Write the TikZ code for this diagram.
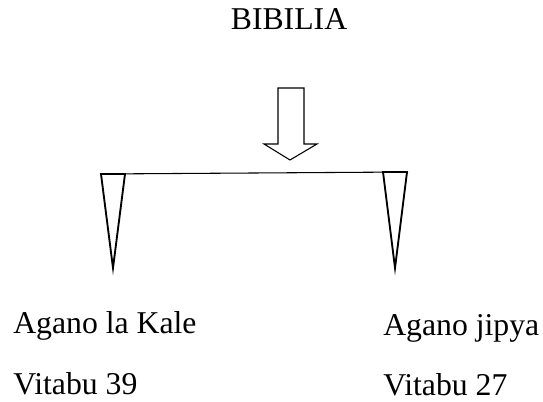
\documentclass[tikz,border=0pt]{standalone}
\usepackage{fontspec}
\setmainfont{Liberation Serif}
\usetikzlibrary{positioning}

\begin{document}
\begin{tikzpicture}[x=0.75pt,y=-0.75pt,
    label/.style={font=\fontsize{23.8}{28}\selectfont, inner sep=0pt}]
    \useasboundingbox (0,0) rectangle (543,402);

    % title
    \node[label, anchor=base] (bibilia) at (289,30) {BIBILIA};

    % hollow arrow pointing down
    \draw[line width=0.8pt] (278,88) -- (304,88) -- (304,144) -- (317,144)
        -- (290,160) -- (264,144) -- (278,144) -- cycle;

    % bar between the two triangles
    \coordinate (barleft) at (101,174);
    \coordinate (barright) at (407,172);
    \draw[line width=0.8pt] (barleft) -- (barright);

    % left and right triangles
    \draw[line width=1.4pt] (barleft) -- (125,174) -- (113,268) -- cycle;
    \draw[line width=1.4pt] (383,172) -- (barright) -- (395,268) -- cycle;

    % texts under the triangles
    \node[label, anchor=base west] (kale) at (13,334) {Agano la Kale};
    \node[label, anchor=base west] (vitabukale) at ([yshift=-45.75pt]kale.base west) {Vitabu 39};
    \node[label, anchor=base west] (jipya) at (383,336) {Agano jipya};
    \node[label, anchor=base west] (vitabujipya) at ([yshift=-45pt]jipya.base west) {Vitabu 27};

\end{tikzpicture}
\end{document}
